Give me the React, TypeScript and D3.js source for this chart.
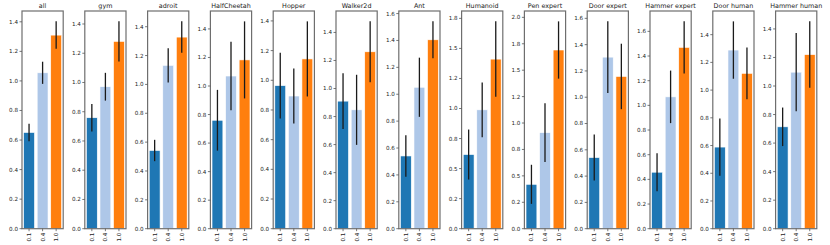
import React from "react";
import * as d3 from "d3";

const panels = ["all", "gym", "adroit", "HalfCheetah", "Hopper", "Walker2d", "Ant", "Humanoid", "Pen expert", "Door expert", "Hammer expert", "Door human", "Hammer human"];
const ratios = ["0.1", "0.4", "1.0"];
const mean01 = [0.651, 0.759, 0.542, 0.760, 0.964, 0.910, 0.541, 0.617, 0.42, 0.541, 0.458, 0.589, 0.714];
const err01 = [0.06, 0.094, 0.074, 0.213, 0.222, 0.199, 0.154, 0.208, 0.185, 0.175, 0.154, 0.207, 0.135];
const mean04 = [1.055, 0.971, 1.132, 1.070, 0.894, 0.848, 1.052, 0.989, 0.909, 1.305, 1.069, 1.289, 1.097];
const err04 = [0.075, 0.095, 0.119, 0.24, 0.185, 0.25, 0.22, 0.228, 0.278, 0.272, 0.213, 0.207, 0.274];
const mean10 = [1.31, 1.281, 1.328, 1.183, 1.144, 1.262, 1.405, 1.411, 1.691, 1.158, 1.470, 1.121, 1.220];
const err10 = [0.093, 0.137, 0.109, 0.27, 0.253, 0.217, 0.137, 0.314, 0.271, 0.249, 0.211, 0.187, 0.233];
const tickSteps = [0.2, 0.2, 0.2, 0.2, 0.2, 0.2, 0.2, 0.25, 0.25, 0.2, 0.2, 0.2, 0.2];
const colors = ["#1f77b4", "#aec7e8", "#ff7f0e"];

const W = 830, H = 245;
const left0 = 22, step = 62.8, pw = 41.2;
const top = 11, bottom = 228.7;
const font = "DejaVu Sans, sans-serif";

// python-style .1f (round half to even)
function pyFmt(v: number): string {
  const x = v * 10;
  let r = Math.round(x);
  if (Math.abs(x - Math.floor(x) - 0.5) < 1e-9) {
    const f = Math.floor(x);
    r = f % 2 === 0 ? f : f + 1;
  }
  return (r / 10).toFixed(1);
}

function Panel({ i }: { i: number }) {
  const means = [mean01[i], mean04[i], mean10[i]];
  const errs = [err01[i], err04[i], err10[i]];
  const ymax = d3.max(means.map((m, k) => m + errs[k]))! * 1.05;
  const x0 = left0 + i * step;
  const x = d3.scaleLinear().domain([-0.52, 2.52]).range([x0, x0 + pw]);
  const y = d3.scaleLinear().domain([0, ymax]).range([bottom, top]);
  const st = tickSteps[i];
  const ticks = d3.range(0, ymax + 1e-9, st);
  return (
    <g>
      {means.map((m, k) => (
        <rect key={k} x={x(k - 0.4)} width={x(k + 0.4) - x(k - 0.4)} y={y(m)} height={y(0) - y(m)}
          fill={colors[k]} stroke="#fff" strokeWidth={0.6} />
      ))}
      {means.map((m, k) => (
        <line key={"e" + k} x1={x(k)} x2={x(k)} y1={y(m - errs[k])} y2={y(m + errs[k])}
          stroke="#1a1a1a" strokeWidth={1.3} />
      ))}
      <rect x={x0} y={top} width={pw} height={bottom - top} fill="none" stroke="#6e6e6e" strokeWidth={1.2} />
      {ticks.map((t) => (
        <g key={t}>
          <line x1={x0 - 2.5} x2={x0} y1={y(t)} y2={y(t)} stroke="#555" strokeWidth={0.8} />
          <text x={x0 - 4} y={y(t)} dy="0.35em" textAnchor="end" fontSize={5.6} fontFamily={font} fill="#222">{pyFmt(t)}</text>
        </g>
      ))}
      {ratios.map((r, k) => (
        <g key={r}>
          <line x1={x(k)} x2={x(k)} y1={bottom} y2={bottom + 2.5} stroke="#555" strokeWidth={0.8} />
          <text transform={`translate(${x(k)},${bottom + 4}) rotate(-90)`} textAnchor="end" dy="0.35em"
            fontSize={5.6} fontFamily={font} fill="#222">{r}</text>
        </g>
      ))}
      <text x={x0 + pw / 2} y={top - 3} textAnchor="middle" fontSize={6.4} fontFamily={font} fill="#222">{panels[i]}</text>
    </g>
  );
}

export default function App() {
  return (
    <svg width={W} height={H} style={{ position: "absolute", left: 0, top: 0, background: "#fff" }}>
      <rect width={W} height={H} fill="#fff" />
      {panels.map((p, i) => <Panel key={p} i={i} />)}
    </svg>
  );
}
